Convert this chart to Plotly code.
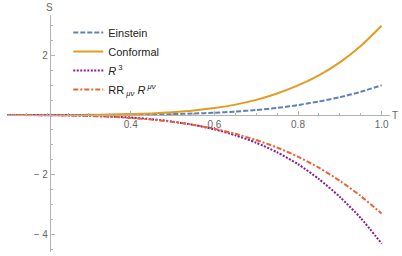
import plotly.graph_objects as go

T = [0.10, 0.15, 0.20, 0.25, 0.30, 0.35, 0.40, 0.45, 0.50, 0.55,
     0.60, 0.65, 0.70, 0.75, 0.80, 0.85, 0.90, 0.95, 1.00]
einstein = [0.0000, 0.0001, 0.0003, 0.001, 0.0024, 0.0053, 0.010, 0.018, 0.031, 0.050,
            0.078, 0.116, 0.170, 0.240, 0.335, 0.455, 0.600, 0.780, 1.00]
conformal = [0.0000, 0.0002, 0.001, 0.003, 0.007, 0.016, 0.031, 0.055, 0.094, 0.150,
             0.235, 0.350, 0.510, 0.725, 0.995, 1.335, 1.770, 2.320, 3.00]
r_cubed = [-0.0002, -0.0012, -0.0043, -0.011, -0.024, -0.047, -0.084, -0.139, -0.219, -0.33,
           -0.48, -0.68, -0.93, -1.25, -1.65, -2.15, -2.75, -3.46, -4.32]
rr_ricci = [-0.0005, -0.0022, -0.0067, -0.016, -0.032, -0.058, -0.097, -0.153, -0.23, -0.33,
            -0.46, -0.63, -0.84, -1.09, -1.40, -1.77, -2.21, -2.72, -3.31]

x_tick_vals = [0.4, 0.6, 0.8, 1.0]
x_tick_text = ["0.4", "0.6", "0.8", "1.0"]
y_tick_vals = [-4, -2, 2]
y_tick_text = ["− 4", "− 2", "2"]

series = [
    ("Einstein", einstein, "#5E81B5", "5px,2px"),
    ("Conformal", conformal, "#E19C24", "solid"),
    ("<i>R</i><sup> 3</sup>", r_cubed, "#8B1A8F", "2px,1.5px"),
    ("RR<sub> <i>μν</i></sub> <i>R</i><sup> <i>μν</i></sup>", rr_ricci, "#EB6235", "5px,2px,2px,2px"),
]

fig = go.Figure()
for name, vals, col, dash in series:
    fig.add_trace(go.Scatter(x=T, y=vals, name=name, mode="lines", hoverinfo="skip",
                             line=dict(color=col, width=2, dash=dash, shape="spline",
                                       smoothing=0.7)))

axis_col = "#b3b3b3"
tick_font = dict(family="Liberation Sans, Arial, sans-serif", size=10, color="#666666")

fig.update_layout(
    template="none",
    width=402, height=256,
    margin=dict(l=7, r=12, t=15, b=4, autoexpand=False),
    paper_bgcolor="white", plot_bgcolor="white",
    showlegend=True,
    legend=dict(x=0.16, y=0.987, xanchor="left", yanchor="top",
                bgcolor="rgba(0,0,0,0)", tracegroupgap=0,
                font=dict(family="Liberation Sans, Arial, sans-serif", size=11, color="#222222")),
    xaxis=dict(range=[0.104, 1.02], showgrid=False, zeroline=False, automargin=False,
               anchor="free", position=0.578,
               showline=True, linecolor=axis_col, linewidth=1,
               tickvals=x_tick_vals, ticktext=x_tick_text, ticks="inside",
               ticklen=4, tickcolor=axis_col, tickfont=tick_font,
               minor=dict(dtick=0.05, tick0=0, ticks="inside", ticklen=2, tickcolor=axis_col)),
    yaxis=dict(range=[-4.6, 3.36], showgrid=False, zeroline=False, automargin=False,
               anchor="free", position=0.112,
               showline=True, linecolor=axis_col, linewidth=1,
               tickvals=y_tick_vals, ticktext=y_tick_text, ticks="inside",
               ticklen=4, tickcolor=axis_col, tickfont=tick_font,
               minor=dict(dtick=0.5, tick0=0, ticks="inside", ticklen=2, tickcolor=axis_col)),
    annotations=[
        dict(text="S", xref="paper", yref="paper", x=0.112, y=1.0, xanchor="center",
             yanchor="bottom", showarrow=False, font=tick_font),
        dict(text="T", xref="paper", yref="paper", x=1.0, y=0.578, xanchor="left",
             yanchor="middle", showarrow=False, font=tick_font),
    ],
)

fig.write_html("out.html", config={"displayModeBar": False, "staticPlot": True},
               post_script="document.body.style.margin='0';")
